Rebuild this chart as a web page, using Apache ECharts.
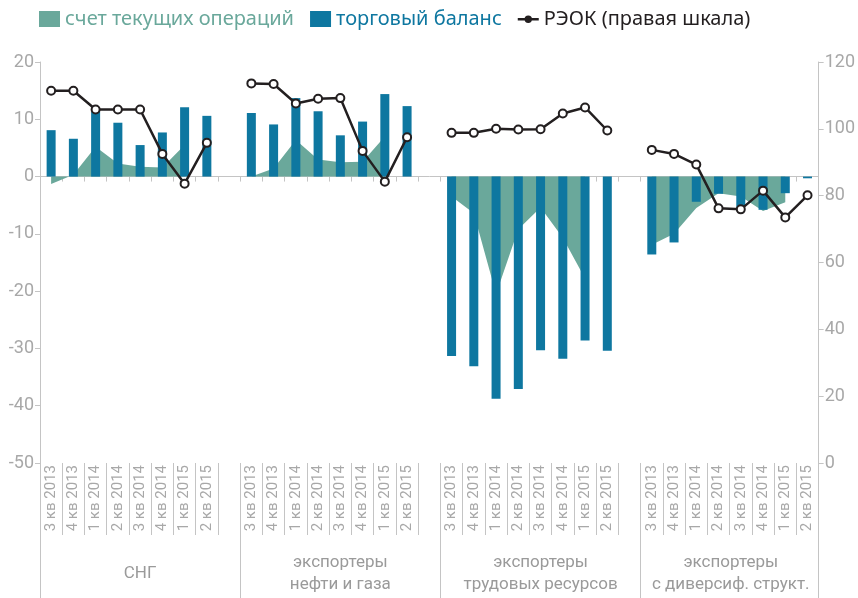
<!DOCTYPE html>
<html>
<head>
<meta charset="utf-8">
<script src="https://cdn.jsdelivr.net/npm/echarts@6/dist/echarts.min.js"></script>
<style>
  html, body { margin: 0; padding: 0; background: #fff; }
  #chart { width: 858px; height: 598px; }
</style>
</head>
<body>
<div id="chart"></div>
<script>
const quarters = ['3 кв 2013', '4 кв 2013', '1 кв 2014', '2 кв 2014', '3 кв 2014', '4 кв 2014', '1 кв 2015', '2 кв 2015'];
const groupNames = ['СНГ', 'экспортеры\nнефти и газа', 'экспортеры\nтрудовых ресурсов', 'экспортеры\nс диверсиф. структ.'];

// счет текущих операций (левая шкала)
const caCIS = [-1.3, 0.3, 5.2, 2.3, 1.7, 1.6, 5.5, null];
const caOil = [0.0, 1.4, 6.4, 3.0, 2.5, 2.6, 7.0, null];
const caLabor = [-3.5, -6.4, -20.5, -9.2, -5.4, -10.7, -17.8, null];
const caDiv = [-11.9, -10.0, -5.5, -2.9, -3.5, -6.0, -4.5, null];

// торговый баланс (левая шкала)
const tbCIS = [8.1, 6.6, 11.3, 9.4, 5.5, 7.7, 12.1, 10.6];
const tbOil = [11.1, 9.1, 13.7, 11.4, 7.2, 9.6, 14.4, 12.3];
const tbLabor = [-31.3, -33.1, -38.8, -37.1, -30.3, -31.8, -28.6, -30.4];
const tbDiv = [-13.6, -11.5, -4.4, -3.0, -5.3, -5.8, -2.9, -0.3];

// РЭОК (правая шкала)
const reerCIS = [111.4, 111.4, 105.8, 105.8, 105.8, 92.5, 83.6, 95.8];
const reerOil = [113.6, 113.4, 107.6, 109.0, 109.2, 93.4, 84.2, 97.5];
const reerLabor = [98.8, 98.8, 100.0, 99.8, 99.9, 104.6, 106.4, 99.5];
const reerDiv = [93.7, 92.5, 89.3, 76.2, 75.9, 81.5, 73.5, 80.1];

const leftTicks = { min: -50, max: 20, step: 10 };
const rightTicks = { min: 0, max: 120, step: 20 };

// one empty category between groups
function joinGroups(lists) {
  let out = [];
  lists.forEach((l, i) => {
    out = out.concat(l);
    if (i < lists.length - 1) out.push(null);
  });
  return out;
}

const categories = joinGroups([quarters, quarters, quarters, quarters]).map(q => q === null ? '' : q);
const groupStart = [0, 9, 18, 27];
const groupLabelAt = [4, 13, 22, 31];

const tealColor = '#6aa89b';
const blueColor = '#0e77a0';
const darkColor = '#231f20';
const axisColor = '#c4c4c4';
const labelColor = '#a8a8a8';

// legend icon: short line with a dot in the middle
const lineDotIcon = 'path://M0,0 L0.01,0 L0,0.01 Z M21,16 L20.99,16 L21,15.99 Z M0,7 L21,7 L21,9.4 L0,9.4 Z M14.2,8.2 A3.7,3.7 0 1 1 6.8,8.2 A3.7,3.7 0 1 1 14.2,8.2 Z';

const chart = echarts.init(document.getElementById('chart'));
chart.setOption({
  animation: false,
  textStyle: { fontFamily: 'Roboto' },
  legend: {
    top: 4,
    left: 34,
    itemWidth: 21,
    itemHeight: 16,
    itemGap: 16,
    textStyle: { fontSize: 20, fontFamily: 'Noto Sans' },
    data: [
      { name: 'счет текущих операций', icon: 'rect', itemStyle: { color: tealColor }, textStyle: { color: tealColor } },
      { name: 'торговый баланс', icon: 'rect', itemStyle: { color: blueColor }, textStyle: { color: blueColor } },
      { name: 'РЭОК (правая шкала)', icon: lineDotIcon, itemStyle: { color: darkColor, borderWidth: 0 }, textStyle: { color: darkColor } }
    ]
  },
  grid: { left: 40, right: 33, top: 62, bottom: 135 },
  xAxis: [{
    type: 'category',
    data: categories,
    position: 'bottom',
    axisLine: { onZero: true, onZeroAxisIndex: 0, lineStyle: { color: axisColor, width: 1 } },
    axisTick: { show: true, interval: 0, length: 5, lineStyle: { color: axisColor } },
    axisLabel: { show: false }
  }, {
    type: 'category',
    data: categories,
    position: 'bottom',
    axisLine: { show: false, onZero: false },
    axisTick: { show: true, interval: 0, length: 72, lineStyle: { color: axisColor } },
    axisLabel: { interval: 0, rotate: 90, margin: 2, fontSize: 15, color: labelColor }
  }, {
    type: 'category',
    data: categories,
    position: 'bottom',
    axisLine: { show: false, onZero: false },
    axisTick: {
      show: true,
      length: 135,
      interval: idx => groupStart.includes(idx),
      lineStyle: { color: axisColor }
    },
    axisLabel: {
      interval: idx => groupLabelAt.includes(idx),
      formatter: (v, idx) => {
        const g = groupLabelAt.indexOf(idx);
        if (g < 0) return '';
        // last group label sits a little left of its slot
        return g === 3 ? '{last|' + groupNames[g].replace('\n', '}\n{last|') + '}' : groupNames[g];
      },
      margin: 111,
      verticalAlign: 'middle',
      fontSize: 17,
      lineHeight: 22,
      color: '#9a9a9a',
      rich: {
        last: { fontSize: 17, lineHeight: 22, color: '#9a9a9a', padding: [0, 20, 0, 0] }
      }
    }
  }],
  yAxis: [{
    type: 'value',
    position: 'left',
    min: leftTicks.min,
    max: leftTicks.max,
    interval: leftTicks.step,
    axisLine: { show: true, lineStyle: { color: axisColor } },
    axisTick: { show: true, length: 5, lineStyle: { color: axisColor } },
    splitLine: { show: false },
    axisLabel: { fontSize: 18, color: labelColor, margin: 6 }
  }, {
    type: 'value',
    position: 'right',
    min: rightTicks.min,
    max: rightTicks.max,
    interval: rightTicks.step,
    axisLine: { show: true, lineStyle: { color: axisColor } },
    axisTick: { show: true, length: 5, lineStyle: { color: axisColor } },
    splitLine: { show: false },
    axisLabel: { fontSize: 18, color: labelColor, margin: 6 }
  }],
  series: [{
    name: 'счет текущих операций',
    type: 'line',
    yAxisIndex: 0,
    data: joinGroups([caCIS, caOil, caLabor, caDiv]),
    symbol: 'none',
    connectNulls: false,
    itemStyle: { color: tealColor },
    lineStyle: { width: 0 },
    areaStyle: { color: tealColor, opacity: 1 },
    z: 1
  }, {
    name: 'торговый баланс',
    type: 'bar',
    yAxisIndex: 0,
    data: joinGroups([tbCIS, tbOil, tbLabor, tbDiv]),
    barWidth: 9,
    itemStyle: { color: blueColor },
    z: 2
  }, {
    name: 'РЭОК (правая шкала)',
    type: 'line',
    yAxisIndex: 1,
    data: joinGroups([reerCIS, reerOil, reerLabor, reerDiv]),
    connectNulls: false,
    symbol: 'emptyCircle',
    symbolSize: 8,
    itemStyle: { color: darkColor, borderWidth: 3 },
    lineStyle: { color: darkColor, width: 2.5 },
    z: 3
  }]
});
</script>
</body>
</html>
